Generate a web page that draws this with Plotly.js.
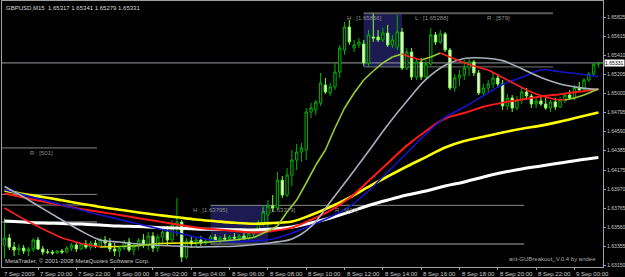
<!DOCTYPE html>
<html><head><meta charset="utf-8">
<script src="https://cdn.plot.ly/plotly-3.0.1.min.js"></script>
<style>html,body{margin:0;padding:0;background:#000;}#chart{width:625px;height:277px;}</style>
</head><body><div id="chart"></div>
<script>
// ---------- data ----------
const chartTitle = "GBPUSD,M15  1.65317 1.65341 1.65279 1.65331";
const firstBar = -7;            // bar index relative to 7 Sep 2009 20:00 (M15 bars)
const openP = [
1.63367,1.63442,1.63345,1.63313,1.63334,1.63302,1.63324,1.63421,1.63324,1.63291,
1.63290,1.63281,1.63302,1.63291,1.63334,1.63367,1.63324,1.63378,1.63345,1.63388,
1.63356,1.63421,1.63388,1.63324,1.63302,1.63334,1.63399,1.63313,1.63356,1.63421,
1.63367,1.63464,1.63334,1.63453,1.63507,1.63421,1.63583,1.63615,1.63237,1.63410,
1.63378,1.63421,1.63388,1.63410,1.63453,1.63421,1.63442,1.63431,1.63453,1.63442,
1.63464,1.63442,1.63485,1.63529,1.63604,1.63691,1.63788,1.63766,1.64066,1.63906,
1.64122,1.64284,1.64370,1.64392,1.64802,1.64824,1.64899,1.65093,1.65007,1.65072,
1.65233,1.65471,1.65719,1.65492,1.65525,1.65536,1.65331,1.65611,1.65611,1.65579,
1.65654,1.65525,1.65503,1.65665,1.65276,1.65449,1.65179,1.65341,1.65179,1.65320,
1.65633,1.65557,1.65644,1.65471,1.65061,1.65169,1.65201,1.65276,1.65341,1.65223,
1.65007,1.65061,1.65104,1.65169,1.65104,1.64867,1.64953,1.64845,1.64931,1.65018,
1.64975,1.64888,1.64921,1.64888,1.64845,1.64910,1.64856,1.64931,1.64985,1.64953,
1.65061,1.65039,1.65147,1.65212,1.65317];
const highP = [
1.63658,1.63485,1.63399,1.63378,1.63367,1.63345,1.63442,1.63453,1.63356,1.63324,
1.63313,1.63313,1.63324,1.63356,1.63388,1.63399,1.63388,1.63421,1.63410,1.63421,
1.63442,1.63464,1.63442,1.63388,1.63356,1.63421,1.63442,1.63378,1.63442,1.63485,
1.63507,1.63507,1.63485,1.63550,1.63572,1.63637,1.63874,1.63637,1.63442,1.63464,
1.63442,1.63464,1.63442,1.63475,1.63485,1.63464,1.63485,1.63475,1.63496,1.63485,
1.63496,1.63507,1.63550,1.63637,1.63795,1.63852,1.63906,1.64154,1.64111,1.64197,
1.64392,1.64457,1.64467,1.64845,1.64899,1.64931,1.65223,1.65169,1.65115,1.65331,
1.65525,1.65773,1.65795,1.65579,1.65600,1.65579,1.65687,1.65866,1.65687,1.65708,
1.65741,1.65633,1.65848,1.65708,1.65492,1.65492,1.65385,1.65385,1.65363,1.65708,
1.65665,1.65687,1.65665,1.65492,1.65212,1.65255,1.65363,1.65385,1.65363,1.65255,
1.65104,1.65147,1.65233,1.65212,1.65147,1.64996,1.64985,1.64975,1.65061,1.65061,
1.64996,1.64964,1.64975,1.64985,1.64931,1.64953,1.64964,1.65007,1.65039,1.65093,
1.65126,1.65169,1.65233,1.65325,1.65341];
const lowP = [
1.63227,1.63313,1.63248,1.63259,1.63270,1.63248,1.63291,1.63313,1.63259,1.63270,
1.63259,1.63270,1.63270,1.63281,1.63302,1.63291,1.63313,1.63324,1.63313,1.63334,
1.63334,1.63356,1.63291,1.63248,1.63237,1.63313,1.63291,1.63259,1.63313,1.63334,
1.63313,1.63291,1.63291,1.63378,1.63367,1.63399,1.63464,1.63183,1.63216,1.63334,
1.63345,1.63356,1.63367,1.63388,1.63399,1.63379,1.63410,1.63399,1.63421,1.63410,
1.63421,1.63421,1.63453,1.63507,1.63572,1.63561,1.63723,1.63744,1.63874,1.63884,
1.64003,1.64176,1.64262,1.64284,1.64737,1.64770,1.64867,1.64996,1.64975,1.65039,
1.65169,1.65417,1.65525,1.65449,1.65492,1.65298,1.65288,1.65557,1.65557,1.65557,
1.65503,1.65492,1.65471,1.65255,1.65255,1.65147,1.65147,1.65147,1.65147,1.65298,
1.65525,1.65536,1.65449,1.65039,1.65018,1.65082,1.65147,1.65190,1.65190,1.64985,
1.64975,1.65018,1.65061,1.65061,1.64824,1.64824,1.64802,1.64824,1.64888,1.64931,
1.64845,1.64845,1.64867,1.64824,1.64802,1.64824,1.64845,1.64899,1.64931,1.64931,
1.65018,1.65018,1.65126,1.65190,1.65279];
const closeP = [
1.63442,1.63345,1.63313,1.63334,1.63302,1.63324,1.63421,1.63324,1.63291,1.63290,
1.63281,1.63302,1.63291,1.63334,1.63367,1.63324,1.63378,1.63345,1.63388,1.63356,
1.63421,1.63388,1.63324,1.63302,1.63334,1.63399,1.63313,1.63356,1.63421,1.63367,
1.63464,1.63334,1.63453,1.63507,1.63421,1.63583,1.63615,1.63237,1.63410,1.63378,
1.63421,1.63388,1.63410,1.63453,1.63421,1.63442,1.63431,1.63453,1.63442,1.63464,
1.63442,1.63485,1.63529,1.63604,1.63723,1.63788,1.63766,1.64066,1.63906,1.64122,
1.64284,1.64370,1.64414,1.64802,1.64845,1.64910,1.65115,1.65018,1.65072,1.65233,
1.65492,1.65719,1.65557,1.65525,1.65557,1.65331,1.65633,1.65600,1.65579,1.65654,
1.65525,1.65579,1.65665,1.65276,1.65449,1.65179,1.65341,1.65179,1.65320,1.65633,
1.65557,1.65644,1.65471,1.65061,1.65169,1.65201,1.65276,1.65341,1.65223,1.65007,
1.65061,1.65104,1.65169,1.65104,1.64867,1.64953,1.64845,1.64931,1.65018,1.64975,
1.64888,1.64921,1.64888,1.64845,1.64910,1.64856,1.64931,1.64985,1.64953,1.65061,
1.65039,1.65147,1.65212,1.65317,1.65331];

// moving averages, read every 4 bars
const maBars = [-7,-3,1,5,9,13,17,21,25,29,33,37,41,45,49,53,57,61,65,69,73,77,81,85,89,93,97,101,105,109,113,117];
const maWhite = [1.63626,1.63615,1.63604,1.63599,1.63593,1.63583,1.63572,1.63566,1.63556,1.63550,1.63539,1.63536,1.63533,1.63529,1.63539,1.63561,1.63604,1.63658,1.63723,1.63793,1.63852,1.63906,1.63950,1.64003,1.64047,1.64101,1.64149,1.64187,1.64219,1.64252,1.64284,1.64311];
const maYellow = [1.63955,1.63917,1.63885,1.63849,1.63812,1.63777,1.63748,1.63718,1.63691,1.63667,1.63642,1.63624,1.63607,1.63596,1.63604,1.63620,1.63691,1.63777,1.63879,1.63995,1.64106,1.64214,1.64316,1.64419,1.64489,1.64534,1.64581,1.64621,1.64655,1.64698,1.64748,1.64797];
const maRed = [1.63923,1.63879,1.63836,1.63795,1.63755,1.63723,1.63691,1.63656,1.63623,1.63589,1.63557,1.63536,1.63518,1.63502,1.63520,1.63555,1.63640,1.63739,1.63874,1.64057,1.64248,1.64439,1.64597,1.64732,1.64791,1.64858,1.64903,1.64937,1.64969,1.64994,1.65021,1.65050];
const maBlue = [1.63964,1.63909,1.63853,1.63798,1.63745,1.63691,1.63643,1.63593,1.63546,1.63500,1.63452,1.63414,1.63401,1.63412,1.63432,1.63496,1.63581,1.63669,1.63782,1.63950,1.64155,1.64360,1.64565,1.64743,1.64856,1.64977,1.65098,1.65176,1.65255,1.65236,1.65212,1.65185];
const maSilver = [1.63999,1.63885,1.63760,1.63637,1.63518,1.63421,1.63399,1.63378,1.63364,1.63356,1.63345,1.63350,1.63354,1.63371,1.63394,1.63432,1.63565,1.63831,1.64101,1.64378,1.64662,1.64918,1.65153,1.65306,1.65379,1.65385,1.65356,1.65268,1.65174,1.65104,1.65065,1.65044];
// fast colour-changing MA
const fastBars = [-7,-3,1,5,9,13,17,21,25,29,33,37,41,45,48,50,52,54,56,58,60,62,64,66,68,70,72,74,76,78,80,82,84,86,88,90,92,94,96,98,100,102,104,106,108,110,112,114,116,117];
const fastMA = [1.63766,1.63647,1.63540,1.63442,1.63383,1.63345,1.63351,1.63361,1.63383,1.63388,1.63388,1.63405,1.63421,1.63448,1.63518,1.63572,1.63723,1.63852,1.64036,1.64230,1.64392,1.64629,1.64845,1.65007,1.65147,1.65244,1.65331,1.65395,1.65428,1.65390,1.65363,1.65395,1.65439,1.65395,1.65352,1.65315,1.65282,1.65255,1.65201,1.65147,1.65093,1.65039,1.64996,1.64964,1.64937,1.64931,1.64953,1.64985,1.65029,1.65050];

// axis ticks
const yTicks = [1.65825,1.65615,1.65410,1.65205,1.65000,1.64795,1.64590,1.64385,1.64175,1.63970,1.63765,1.63560,1.63355,1.63150];
const xTickBars = [-7.5,0,8,16,24,32,40,48,56,64,72,80,88,96,104,112];
const xTickLabels = ['7 Sep 2009','7 Sep 20:00','7 Sep 22:00','8 Sep 00:00','8 Sep 02:00','8 Sep 04:00','8 Sep 06:00','8 Sep 08:00','8 Sep 10:00','8 Sep 12:00','8 Sep 14:00','8 Sep 16:00','8 Sep 18:00','8 Sep 20:00','8 Sep 22:00','9 Sep 00:00'];

// breakout boxes
const boxHigh = [1.63795, 1.65866];
const boxLow = [1.63379, 1.65288];
const boxFrom = [36, 68];
const boxTo = [48, 76];
const boxLineEnd = [101.5, 107.5];
const boxLabelBars = [[32, 46.3, 61.6], [64, 78.3, 93.3]];
// previous range lines (left)
const prevHigh = 1.64414, prevLow = 1.63913, prevExtra = [1.63798, 1.63615];
const prevEnd = 12.3, prevLabelBar = -2.1, prevRange = 501;
const bidPrice = 1.65331;
const viewBars = [-7.52, 117.96];
const priceRange = [1.63130, 1.65999];

// ---------- helpers ----------
function barTime(b){
  const d = new Date(Date.UTC(2009,8,7,20,0,0) + Math.round(b*900000));
  const p = n => String(n).padStart(2,'0');
  return d.getUTCFullYear()+'-'+p(d.getUTCMonth()+1)+'-'+p(d.getUTCDate())+' '+p(d.getUTCHours())+':'+p(d.getUTCMinutes())+':'+p(d.getUTCSeconds());
}
const FONT = 'Liberation Sans, Arial, sans-serif';
const times = openP.map((_, k) => barTime(firstBar + k));

const traces = [];
traces.push({type:'candlestick', x:times, open:openP, high:highP, low:lowP, close:closeP,
  increasing:{line:{color:'#00b400', width:1}, fillcolor:'#000000'},
  decreasing:{line:{color:'#7dff3c', width:1}, fillcolor:'#ffffff'},
  whiskerwidth:0, hoverinfo:'skip'});

function maTrace(vals, color, width){
  return {type:'scatter', mode:'lines', x:maBars.map(barTime), y:vals,
    line:{color:color, width:width, shape:'spline', smoothing:1}, hoverinfo:'skip'};
}
traces.push(maTrace(maWhite, '#ffffff', 3));
traces.push(maTrace(maYellow, '#ffff00', 2.6));
traces.push(maTrace(maRed, '#ff1a1a', 2));
traces.push(maTrace(maBlue, '#1414c8', 1.6));
traces.push(maTrace(maSilver, '#a8b0bc', 1.6));

// fast MA split by direction
const segs = {up:{x:[],y:[]}, down:{x:[],y:[]}, flat:{x:[],y:[]}};
for (let k=0; k<fastMA.length-1; k++){
  const slope = (fastMA[k+1]-fastMA[k])/(fastBars[k+1]-fastBars[k]);
  const key = slope > 0.00002 ? 'up' : (slope < -0.00002 ? 'down' : 'flat');
  segs[key].x.push(barTime(fastBars[k]), barTime(fastBars[k+1]), null);
  segs[key].y.push(fastMA[k], fastMA[k+1], null);
}
const segColor = {up:'#9acd32', down:'#ff2020', flat:'#e6e600'};
for (const key of ['flat','up','down']){
  traces.push({type:'scatter', mode:'lines', x:segs[key].x, y:segs[key].y, connectgaps:false,
    line:{color:segColor[key], width:1.6}, hoverinfo:'skip'});
}

// ---------- shapes ----------
const shapes = [];
function hline(price, b0, b1, color, width){
  shapes.push({type:'line', xref:'x', yref:'y', x0:barTime(b0), x1:barTime(b1), y0:price, y1:price,
    line:{color:color, width:width}, layer:'below'});
}
for (let k=0; k<2; k++){
  shapes.push({type:'rect', xref:'x', yref:'y', x0:barTime(boxFrom[k]), x1:barTime(boxTo[k]),
    y0:boxLow[k], y1:boxHigh[k], fillcolor:'#1b1b52', line:{width:0}, layer:'below'});
}
hline(boxHigh[1], boxFrom[1], boxLineEnd[1], '#5a5a5a', 2);
hline(boxLow[1], boxFrom[1], boxLineEnd[1], '#747474', 1);
hline(boxHigh[0], boxFrom[0], boxLineEnd[0], '#8a8a8a', 1);
hline(boxLow[0], boxFrom[0], boxLineEnd[0], '#555555', 2);
hline(prevHigh, viewBars[0], prevEnd, '#8a8a8a', 1);
hline(prevLow, viewBars[0], prevEnd, '#8a8a8a', 1);
hline(prevExtra[0], viewBars[0], prevEnd, '#8a8a8a', 1);
hline(prevExtra[1], viewBars[0], prevEnd, '#555555', 2);
hline(bidPrice, viewBars[0], viewBars[1], '#9a9aa4', 1);

// ---------- annotations ----------
const ann = [];
const small = (c, s) => ({family:FONT, size:s || 6, color:c});
ann.push({xref:'paper', yref:'paper', x:0, y:1, xanchor:'left', yanchor:'top', xshift:2, yshift:-2,
  text:chartTitle, showarrow:false, font:small('#d8d8d8')});
xTickBars.forEach((b, k) => ann.push({xref:'x', yref:'paper', x:barTime(b), y:0, xanchor:'left', yanchor:'top',
  yshift:-2, text:xTickLabels[k], showarrow:false, font:small('#c8c8c8')}));
ann.push({xref:'paper', yref:'paper', x:0, y:0, xanchor:'left', yanchor:'bottom', xshift:1, yshift:1,
  text:'MetaTrader, © 2001-2008 MetaQuotes Software Corp.', showarrow:false, font:small('#c8c8c8')});
ann.push({xref:'paper', yref:'paper', x:1, y:0, xanchor:'right', yanchor:'bottom', xshift:-5, yshift:3,
  text:'ant-GUBreakout_V.0.4 by andee', showarrow:false, font:small('#a8a8a8')});
for (let k=0; k<2; k++){
  const r = Math.round((boxHigh[k]-boxLow[k])*100000)+1;
  const txt = ['H : ['+boxHigh[k].toFixed(5)+']', 'L : ['+boxLow[k].toFixed(5)+']', 'R : ['+r+']'];
  boxLabelBars[k].forEach((b, j) => ann.push({xref:'x', yref:'y', x:barTime(b), y:boxHigh[k],
    xanchor:'left', yanchor:'top', yshift:0, text:txt[j], showarrow:false, font:small('#8e8e8e')}));
}
ann.push({xref:'x', yref:'y', x:barTime(prevLabelBar), y:prevHigh, xanchor:'left', yanchor:'top',
  text:'R : ['+prevRange+']', showarrow:false, font:small('#8e8e8e')});
ann.push({xref:'paper', yref:'y', x:1, y:bidPrice, xanchor:'left', yanchor:'middle', xshift:1,
  text:bidPrice.toFixed(5), showarrow:false, bgcolor:'#ffffff', borderpad:0,
  font:{family:FONT, size:5.1, color:'#000000'}});

const layout = {
  width:625, height:277, paper_bgcolor:'#000000', plot_bgcolor:'#000000',
  margin:{l:2, r:22, t:1, b:10}, showlegend:false, font:{family:FONT},
  xaxis:{type:'date', range:[barTime(viewBars[0]), barTime(viewBars[1])], showgrid:false, zeroline:false,
    showline:true, linecolor:'#a0a0a0', linewidth:1, mirror:true, ticks:'outside', ticklen:2,
    tickcolor:'#a0a0a0', tickvals:xTickBars.slice(1).map(barTime), showticklabels:false,
    rangeslider:{visible:false}, fixedrange:true},
  yaxis:{side:'right', range:priceRange, tickvals:yTicks, ticktext:yTicks.map(v=>v.toFixed(5)),
    tickfont:small('#c8c8c8', 5.1), ticks:'outside', ticklen:2, tickcolor:'#a0a0a0', ticklabelstandoff:0,
    showgrid:false, zeroline:false, showline:true, linecolor:'#a0a0a0', linewidth:1, mirror:true, fixedrange:true},
  shapes:shapes, annotations:ann
};
Plotly.newPlot('chart', traces, layout, {staticPlot:true, displayModeBar:false});
</script>
</body></html>
